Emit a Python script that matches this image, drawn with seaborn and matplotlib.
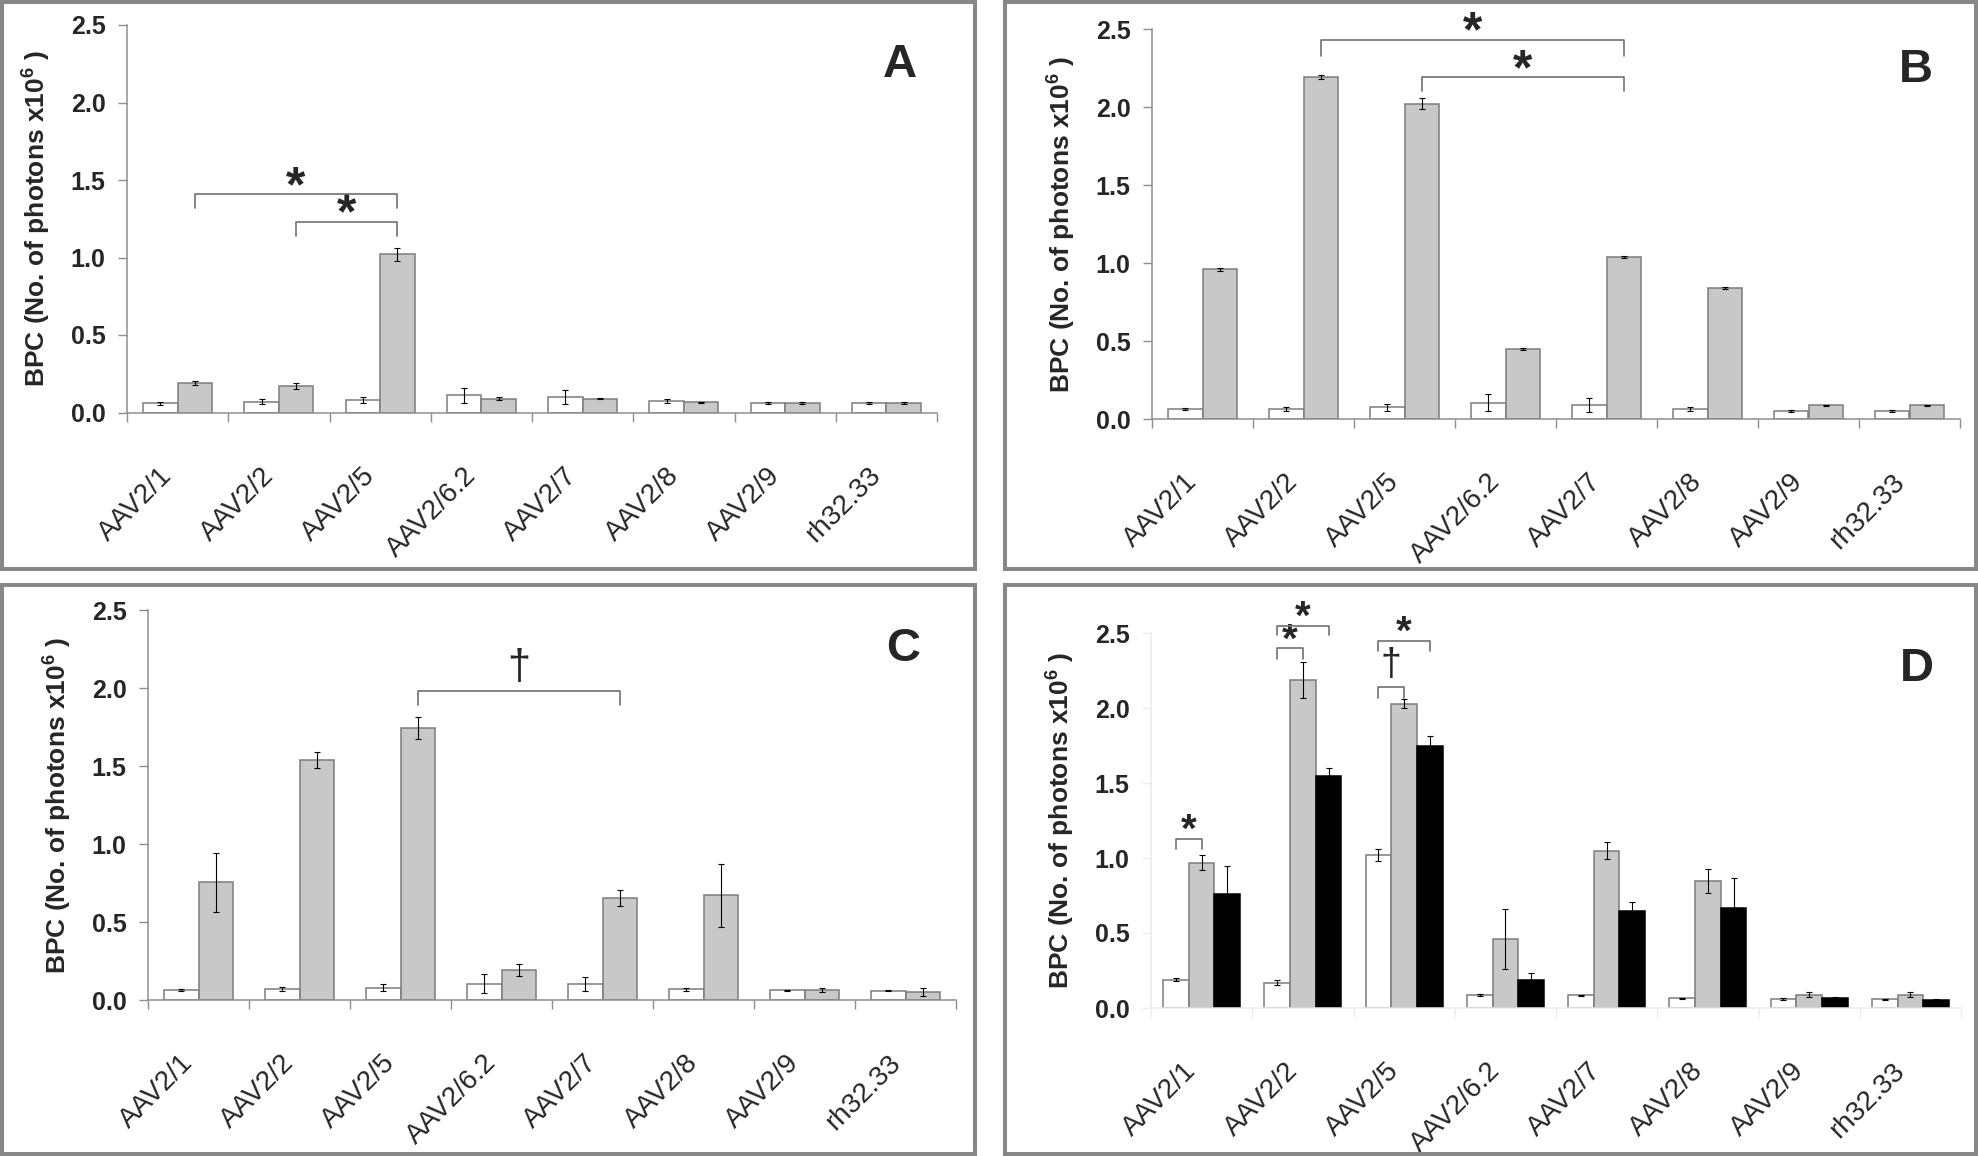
import numpy as np
import pandas as pd
import matplotlib
matplotlib.use('Agg')
import matplotlib.pyplot as plt
from matplotlib.patches import Rectangle
from matplotlib.ticker import FixedLocator, FormatStrFormatter
import seaborn as sns

# --- Data (BPC, No. of photons x10^6) ---
vectors = ['AAV2/1', 'AAV2/2', 'AAV2/5', 'AAV2/6.2', 'AAV2/7', 'AAV2/8', 'AAV2/9', 'rh32.33']

# panel A
a_white = [0.06, 0.07, 0.08, 0.11, 0.10, 0.075, 0.06, 0.06]
a_white_err = [0.01, 0.015, 0.02, 0.05, 0.045, 0.012, 0.006, 0.006]
a_gray = [0.19, 0.17, 1.02, 0.09, 0.09, 0.065, 0.06, 0.06]
a_gray_err = [0.012, 0.018, 0.04, 0.01, 0.005, 0.004, 0.005, 0.005]

# panel B
b_white = [0.064, 0.064, 0.076, 0.105, 0.088, 0.064, 0.052, 0.052]
b_white_err = [0.008, 0.012, 0.022, 0.055, 0.045, 0.012, 0.006, 0.004]
b_gray = [0.96, 2.19, 2.02, 0.45, 1.04, 0.84, 0.088, 0.088]
b_gray_err = [0.01, 0.012, 0.035, 0.005, 0.005, 0.004, 0.004, 0.004]

# panel C
c_white = [0.064, 0.07, 0.08, 0.104, 0.10, 0.068, 0.061, 0.06]
c_white_err = [0.008, 0.012, 0.02, 0.06, 0.045, 0.012, 0.006, 0.004]
c_gray = [0.755, 1.54, 1.745, 0.193, 0.653, 0.67, 0.064, 0.052]
c_gray_err = [0.19, 0.05, 0.07, 0.04, 0.05, 0.205, 0.01, 0.025]

# panel D
d_white = [0.19, 0.17, 1.02, 0.085, 0.085, 0.065, 0.06, 0.058]
d_white_err = [0.01, 0.015, 0.04, 0.008, 0.004, 0.003, 0.004, 0.003]
d_gray = [0.97, 2.19, 2.03, 0.46, 1.05, 0.85, 0.09, 0.09]
d_gray_err = [0.05, 0.12, 0.03, 0.2, 0.055, 0.08, 0.015, 0.015]
d_black = [0.76, 1.55, 1.75, 0.19, 0.65, 0.665, 0.065, 0.052]
d_black_err = [0.19, 0.05, 0.065, 0.045, 0.055, 0.205, 0.006, 0.01]

# significance brackets: (cat1, hue1, cat2, hue2, level, drop, symbol)
a_marks = [(0, 1, 2, 1, 1.41, 0.09, '*'), (1, 1, 2, 1, 1.23, 0.09, '*')]
b_marks = [(1, 1, 4, 1, 2.43, 0.10, '*'), (2, 1, 4, 1, 2.19, 0.09, '*')]
c_marks = [(2, 1, 4, 1, 1.98, 0.09, '\u2020')]
d_marks = [(0, 0, 0, 1, 1.13, 0.07, '*'), (1, 0, 1, 2, 2.55, 0.06, '*'),
           (1, 0, 1, 1, 2.40, 0.07, '*'), (2, 0, 2, 2, 2.45, 0.07, '*'),
           (2, 0, 2, 1, 2.14, 0.07, '\u2020')]

# --- Style ---
sns.set_theme(style='white')
plt.rcParams['font.family'] = ['Liberation Sans', 'DejaVu Sans']
plt.rcParams['mathtext.fontset'] = 'custom'
plt.rcParams['mathtext.rm'] = 'Liberation Sans:bold'
plt.rcParams['mathtext.bf'] = 'Liberation Sans:bold'

W, H, DPI = 1978, 1156, 100
fig = plt.figure(figsize=(W / DPI, H / DPI), dpi=DPI)
fig.patch.set_facecolor('white')

AXIS_GRAY = '#8e8e8e'
EDGE_GRAY = '#7c7c7c'
FILL_GRAY = '#c8c8c8'
BRACKET_GRAY = '#707070'
colors = {'white': '#ffffff', 'gray': FILL_GRAY, 'black': '#000000'}


def px_box(l, t, r, b):
    return [l / W, 1 - b / H, (r - l) / W, (b - t) / H]


# panel frames
for l, t, r, b in [(2, 2, 975, 569), (1005, 2, 1976, 569),
                   (2, 585, 975, 1154), (1005, 585, 1976, 1154)]:
    fig.add_artist(Rectangle((l / W, 1 - b / H), (r - l) / W, (b - t) / H,
                             transform=fig.transFigure, fill=False,
                             edgecolor='#878787', linewidth=2.9))


def draw_panel(ax, series, errors, levels, width, marks, star_size,
               dagger_size, faint=False):
    df = pd.DataFrame({
        'vector': np.tile(vectors, len(levels)),
        'group': np.repeat(levels, len(vectors)),
        'value': np.concatenate(series),
    })
    sns.barplot(data=df, x='vector', y='value', hue='group', order=vectors,
                hue_order=levels, palette=colors, width=width, gap=0,
                errorbar=None, saturation=1, edgecolor=EDGE_GRAY,
                linewidth=1.1, legend=False, ax=ax)

    # error bars from the drawn bars
    for cont, err, lev in zip(ax.containers, errors, levels):
        xs = [p.get_x() + p.get_width() / 2 for p in cont]
        hs = [p.get_height() for p in cont]
        if lev == 'black':
            for p in cont:
                p.set_edgecolor('black')
        ax.errorbar(xs, hs, yerr=err, fmt='none', ecolor='black',
                    elinewidth=0.8, capsize=2.5, capthick=0.8, zorder=4)

    ax.set_ylim(0, 2.5)
    ax.set_xlim(-0.5, len(vectors) - 0.5)
    ax.set_yticks([0, 0.5, 1.0, 1.5, 2.0, 2.5])
    ax.yaxis.set_major_formatter(FormatStrFormatter('%.1f'))
    ax.set_xlabel('')
    ax.set_ylabel('BPC (No. of photons x10$^{6}$ )', fontsize=19,
                  fontweight='bold', va='center')
    ax.yaxis.set_label_coords(-0.113, 0.5)

    spine_col = '#ececec' if faint else AXIS_GRAY
    for s in ['top', 'right']:
        ax.spines[s].set_visible(False)
    for s in ['left', 'bottom']:
        ax.spines[s].set_color(spine_col)
        ax.spines[s].set_linewidth(1.1)

    ax.xaxis.set_minor_locator(FixedLocator(np.arange(len(vectors) + 1) - 0.5))
    ax.tick_params(axis='x', which='major', bottom=True, length=0, pad=36,
                   labelsize=20)
    ax.tick_params(axis='x', which='minor', bottom=True, length=6.5,
                   width=1.0, color=spine_col, direction='out')
    ax.tick_params(axis='y', which='major', left=True, length=6.5, width=1.0,
                   color=spine_col, direction='out', pad=9, labelsize=18)
    for lab in ax.get_xticklabels():
        lab.set_rotation(45)
        lab.set_ha('right')
    for lab in ax.get_yticklabels():
        lab.set_fontweight('bold')

    # significance brackets
    for c1, h1, c2, h2, lvl, drop, sym in marks:
        p1 = ax.containers[h1][c1]
        p2 = ax.containers[h2][c2]
        x1 = p1.get_x() + p1.get_width() / 2
        x2 = p2.get_x() + p2.get_width() / 2
        ax.plot([x1, x1, x2, x2], [lvl - drop, lvl, lvl, lvl - drop],
                color=BRACKET_GRAY, linewidth=1.2, clip_on=False, zorder=5)
        if sym == '*':
            ax.annotate(sym, xy=((x1 + x2) / 2, lvl),
                        xytext=(0, -0.36 * star_size + 8),
                        textcoords='offset points', ha='center', va='baseline',
                        fontsize=star_size, fontweight='bold',
                        annotation_clip=False)
        else:
            ax.annotate(sym, xy=((x1 + x2) / 2, lvl), xytext=(0, 9),
                        textcoords='offset points', ha='center', va='baseline',
                        fontsize=dagger_size, annotation_clip=False)


ax_a = fig.add_axes(px_box(127, 25, 937, 412.5))
draw_panel(ax_a, [a_white, a_gray], [a_white_err, a_gray_err],
           ['white', 'gray'], 0.68, a_marks, 36, 30)

ax_b = fig.add_axes(px_box(1152, 29, 1960, 419))
draw_panel(ax_b, [b_white, b_gray], [b_white_err, b_gray_err],
           ['white', 'gray'], 0.68, b_marks, 36, 30)

ax_c = fig.add_axes(px_box(148, 610, 956, 1000))
draw_panel(ax_c, [c_white, c_gray], [c_white_err, c_gray_err],
           ['white', 'gray'], 0.68, c_marks, 36, 30)

ax_d = fig.add_axes(px_box(1151, 633, 1961, 1008))
draw_panel(ax_d, [d_white, d_gray, d_black],
           [d_white_err, d_gray_err, d_black_err],
           ['white', 'gray', 'black'], 0.76, d_marks, 29, 27, faint=True)

# panel letters
for letter, (x, y) in zip('ABCD', [(900, 65), (1916, 70), (903, 649), (1917, 669)]):
    fig.text(x / W, 1 - y / H, letter, fontsize=34, fontweight='bold',
             ha='center', va='center')

fig.savefig('out.png', dpi=DPI)
